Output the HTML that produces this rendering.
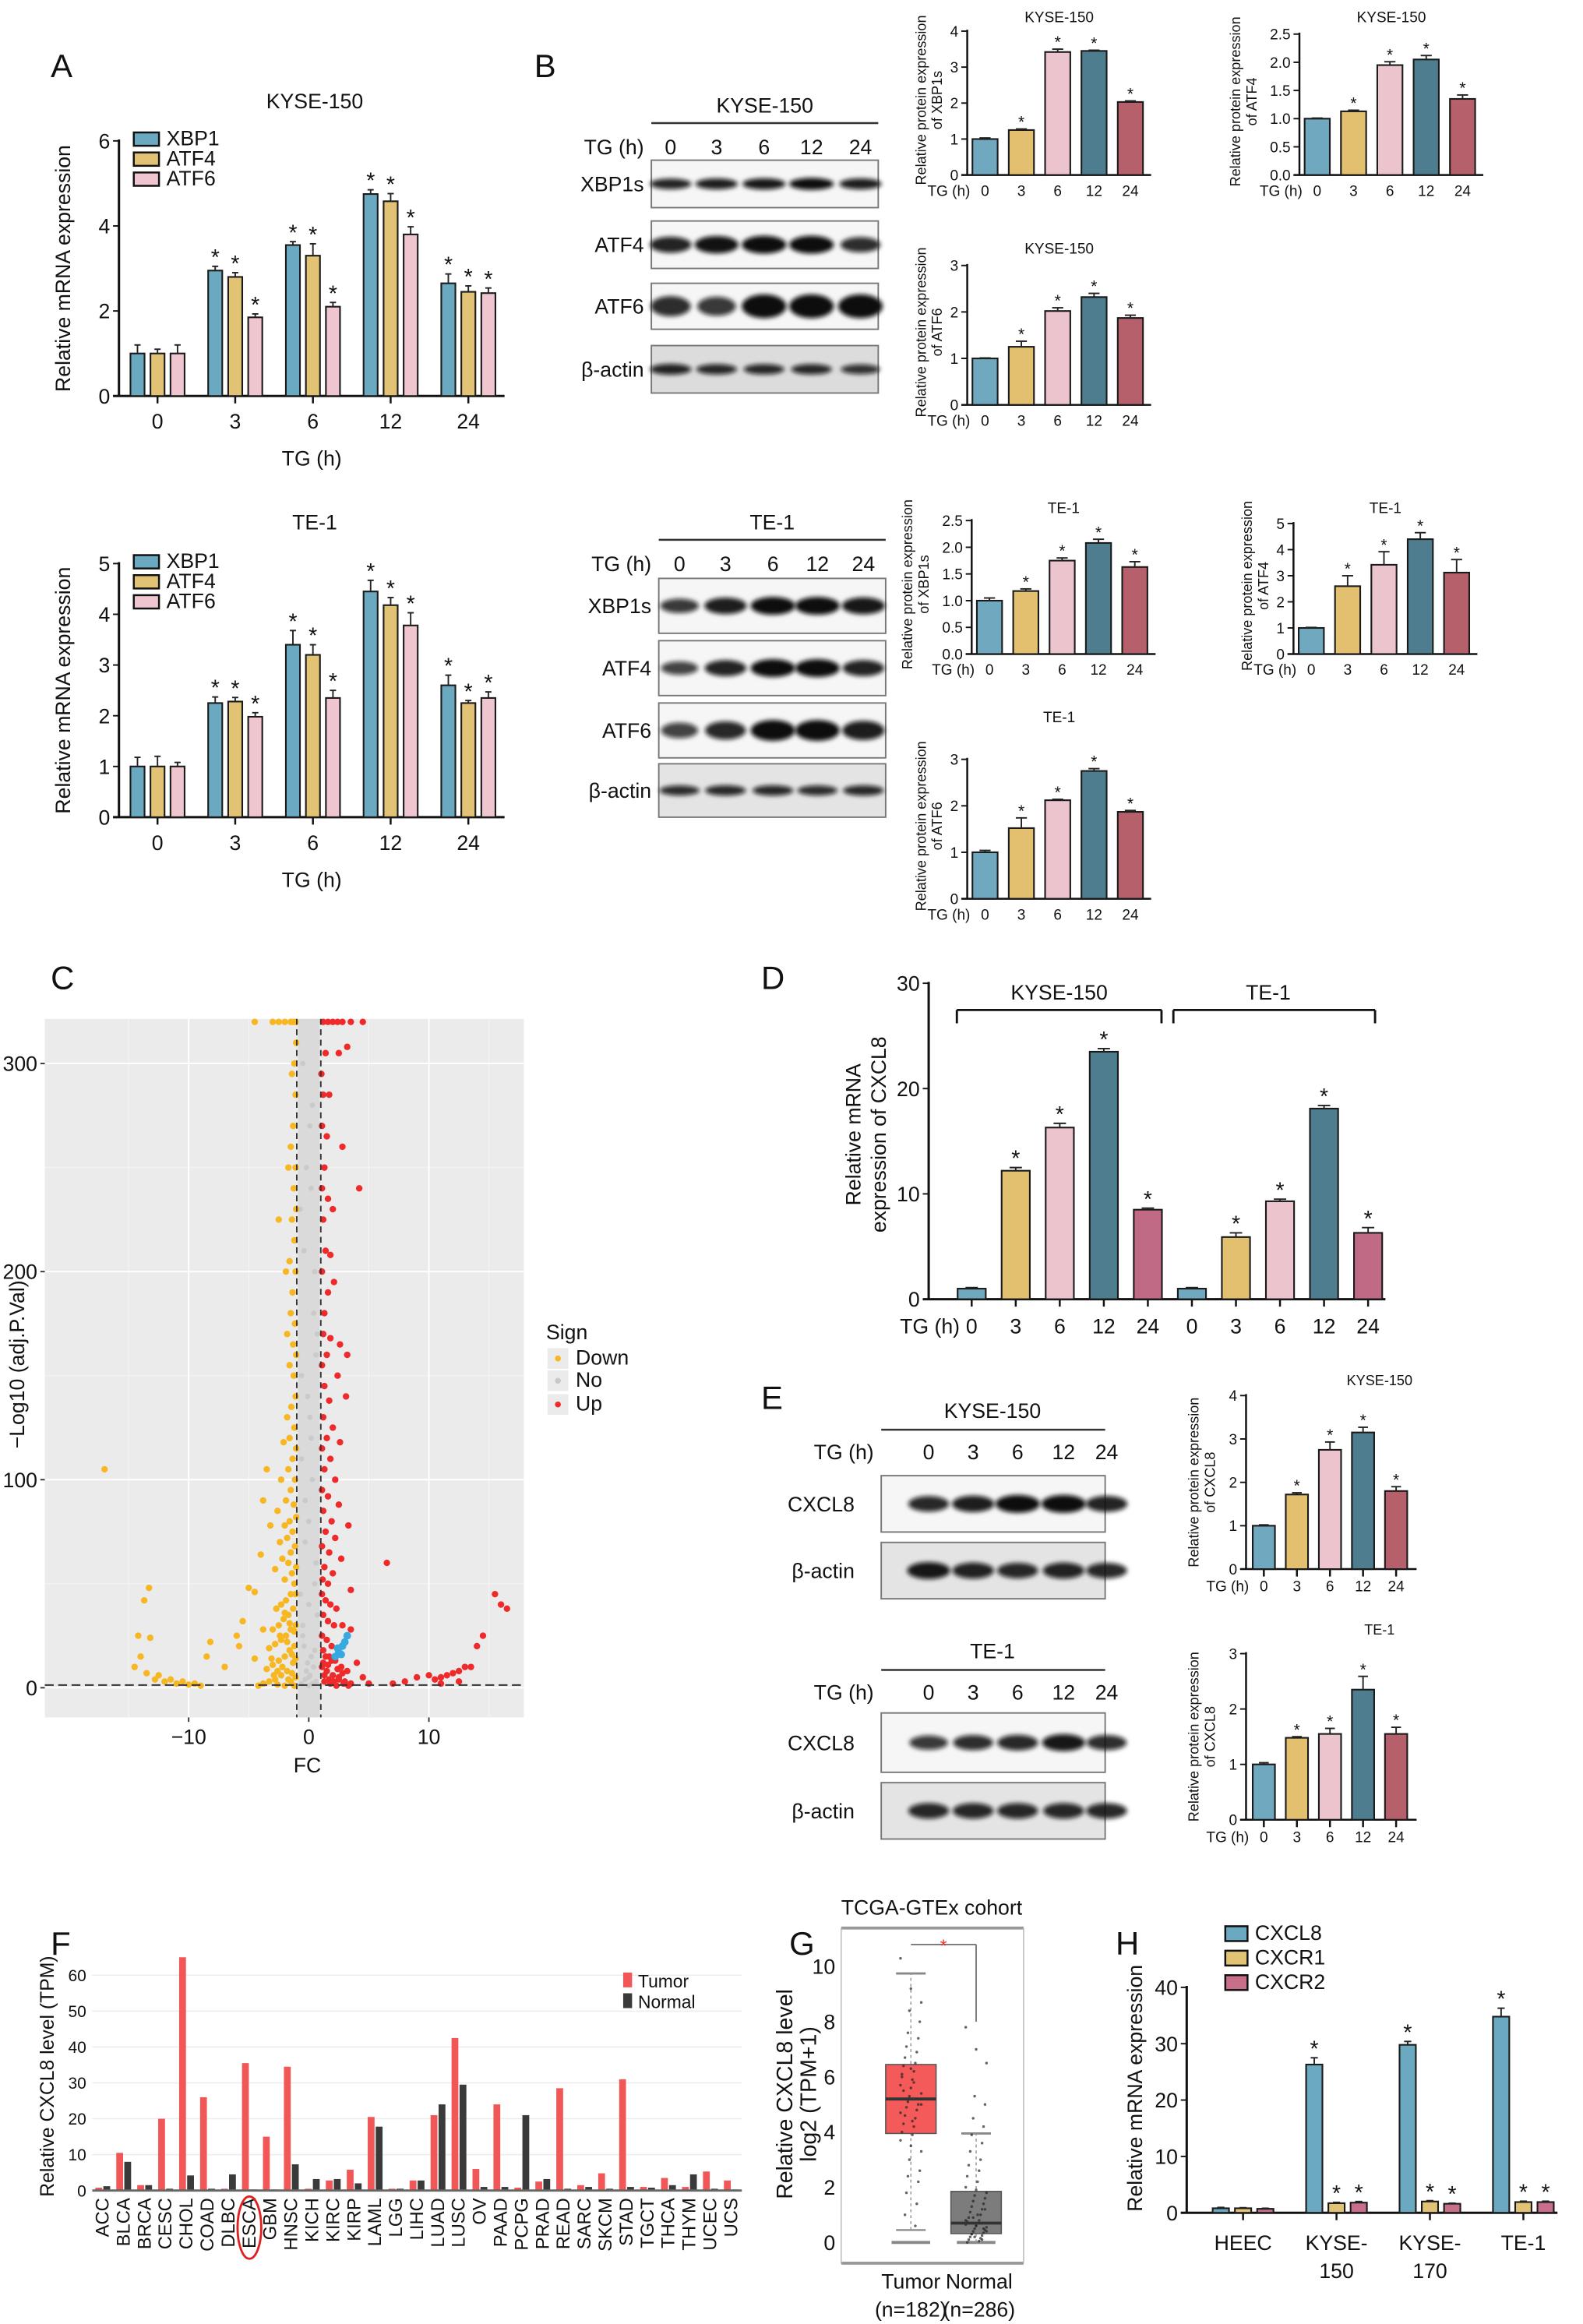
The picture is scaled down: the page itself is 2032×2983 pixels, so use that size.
<!DOCTYPE html>
<html><head><meta charset="utf-8"><title>UPR / CXCL8 figure</title>
<style>
html,body{margin:0;padding:0;background:#fff;}
svg{display:block;font-family:"Liberation Sans",Arial,sans-serif;}
</style></head>
<body>
<svg id="fig" xmlns="http://www.w3.org/2000/svg" width="2032" height="2983" viewBox="0 0 1067 1567">
<defs>
<filter id="blur" x="-30%" y="-80%" width="160%" height="260%"><feGaussianBlur stdDeviation="1.6"/></filter>
</defs>
<rect x="0" y="0" width="1067" height="1567" fill="#fff"/>
</svg>
<script>
// ---------------- DATA ----------------
const tgLabels = ["0","3","6","12","24"];
const aKyseXBP1 = [1.0, 2.95, 3.55, 4.75, 2.65];
const aKyseATF4 = [1.0, 2.8, 3.3, 4.58, 2.45];
const aKyseATF6 = [1.0, 1.85, 2.1, 3.8, 2.42];
const aKyseErrX = [0.2, 0.1, 0.08, 0.1, 0.22];
const aKyseErr4 = [0.1, 0.1, 0.28, 0.18, 0.14];
const aKyseErr6 = [0.2, 0.08, 0.1, 0.18, 0.12];
const aTeXBP1 = [1.0, 2.25, 3.4, 4.45, 2.6];
const aTeATF4 = [1.0, 2.28, 3.2, 4.18, 2.25];
const aTeATF6 = [1.0, 1.98, 2.35, 3.78, 2.35];
const aTeErrX = [0.18, 0.12, 0.28, 0.22, 0.2];
const aTeErr4 = [0.2, 0.08, 0.2, 0.15, 0.05];
const aTeErr6 = [0.08, 0.08, 0.15, 0.25, 0.12];
const aTicksKyse = [0, 2, 4, 6];
const aTicksTe = [0, 1, 2, 3, 4, 5];

const bKyseXBP1s = [1.0, 1.25, 3.42, 3.45, 2.03];
const bKyseXBP1sErr = [0.03, 0.03, 0.08, 0.02, 0.03];
const bKyseATF4 = [1.0, 1.13, 1.95, 2.05, 1.35];
const bKyseATF4Err = [0.01, 0.02, 0.06, 0.07, 0.07];
const bKyseATF6 = [1.0, 1.25, 2.02, 2.32, 1.87];
const bKyseATF6Err = [0.01, 0.12, 0.07, 0.08, 0.06];
const bTeXBP1s = [1.0, 1.18, 1.75, 2.08, 1.63];
const bTeXBP1sErr = [0.05, 0.04, 0.05, 0.07, 0.1];
const bTeATF4 = [1.0, 2.6, 3.42, 4.4, 3.12];
const bTeATF4Err = [0.02, 0.4, 0.5, 0.25, 0.5];
const bTeATF6 = [1.0, 1.52, 2.12, 2.75, 1.87];
const bTeATF6Err = [0.04, 0.22, 0.02, 0.05, 0.03];
const ticks0to4 = [0, 1, 2, 3, 4];
const ticks0to3 = [0, 1, 2, 3];
const ticks0to5 = [0, 1, 2, 3, 4, 5];
const ticks0to25 = [0, 0.5, 1.0, 1.5, 2.0, 2.5];

const dLabels = ["0","3","6","12","24","0","3","6","12","24"];
const dValues = [1.0, 12.2, 16.3, 23.5, 8.5, 1.0, 5.9, 9.3, 18.1, 6.3];
const dErrors = [0.1, 0.3, 0.4, 0.3, 0.15, 0.1, 0.4, 0.2, 0.3, 0.5];
const dTicks = [0, 10, 20, 30];

const eKyseCXCL8 = [1.0, 1.72, 2.75, 3.15, 1.8];
const eKyseErr = [0.02, 0.04, 0.18, 0.12, 0.1];
const eTeCXCL8 = [1.0, 1.48, 1.55, 2.35, 1.55];
const eTeErr = [0.03, 0.02, 0.1, 0.24, 0.12];

const fCategories = ["ACC","BLCA","BRCA","CESC","CHOL","COAD","DLBC","ESCA","GBM","HNSC","KICH","KIRC","KIRP","LAML","LGG","LIHC","LUAD","LUSC","OV","PAAD","PCPG","PRAD","READ","SARC","SKCM","STAD","TGCT","THCA","THYM","UCEC","UCS"];
const fTumor = [0.8,10.5,1.5,20,65,26,0.5,35.5,15,34.5,0.5,2.8,5.8,20.5,0.5,2.8,21,42.5,6,24,0.8,2.5,28.5,1.5,4.8,31,1,3.5,1,5.3,2.8];
const fNormal = [1.2,8,1.5,0.5,4.2,0.5,4.5,0.3,0.3,7.3,3.2,3.2,2,17.8,0.5,2.8,24,29.5,1,1,21,3.2,0.5,1,0.5,1,0.8,1.5,4.5,0.5,0.3];
const fTicks = [0,10,20,30,40,50,60];

const gTicks = [0,2,4,6,8,10];
const gTumorStats = [0.0, 0.45, 3.95, 5.2, 6.45, 9.75];
const gNormalStats = [0.0, 0.0, 0.32, 0.7, 1.85, 3.95];
const gTumorPts = [10.3,9.2,8.7,8.4,8.0,7.6,7.4,7.1,6.9,6.7,6.5,6.4,6.2,6.0,5.9,5.7,5.6,5.4,5.3,5.2,5.1,5.0,4.9,4.8,4.6,4.5,4.3,4.2,4.0,3.9,3.7,3.5,3.3,3.0,2.6,2.4,2.2,1.8,1.4,1.0,0.6,5.5,5.8,6.1,4.4,4.7,6.3,5.0];
const gNormalPts = [7.8,7.0,6.5,5.3,5.0,4.5,4.2,3.9,3.6,3.3,3.0,2.8,2.6,2.4,2.2,2.0,1.9,1.8,1.7,1.6,1.5,1.4,1.3,1.2,1.1,1.0,0.9,0.8,0.75,0.7,0.65,0.6,0.55,0.5,0.45,0.4,0.35,0.3,0.25,0.2,0.15,0.1,0.05,0.0,1.0,0.8,0.6,0.4,0.2,1.2,0.9,0.5,0.3,0.1];

const hCXCL8 = [0.8, 26.3, 29.8, 34.8];
const hCXCR1 = [0.8, 1.7, 2.0, 1.9];
const hCXCR2 = [0.7, 1.8, 1.6, 1.9];
const hErrCXCL8 = [0.15, 1.2, 0.6, 1.5];
const hErrCXCR1 = [0.1, 0.15, 0.15, 0.15];
const hErrCXCR2 = [0.1, 0.2, 0.1, 0.15];
const hTicks = [0,10,20,30,40];

const volDownFC = [-1.05,-1.2,-1.4,-1.1,-1.3,-1.5,-1.1,-1.7,-1.25,-1.05,-1.4,-2.5,-1.2,-1.6,-1.1,-1.9,-1.35,-1.5,-1.15,-1.8,-1.3,-1.05,-1.6,-1.25,
 -1.1,-1.45,-1.8,-1.2,-1.6,-2.1,-1.05,-1.35,-1.7,-2.3,-1.15,-1.5,-1.9,-1.25,-2.6,-1.05,-1.6,-2,-1.35,-1.8,-2.4,-1.15,-1.5,-2.2,-1.7,-1.05,-2.8,-1.4,-2,-1.2,-3.5,-3.8,-3.2,-4,
 -1.1,-1.5,-1.9,-2.3,-2.7,-1.3,-1.7,-2.1,-2.5,-1.1,-3,-1.5,-1.9,-2.3,-2.8,-3.3,-1.2,-1.6,-2,-2.5,-3,-3.5,-1.3,-1.8,-2.3,-2.8,-3.3,-3.8,-1.1,-1.5,-2,-4.2,-1.2,-2.6,
 -1.4,-1.8,-2.2,-2.6,-1.2,-1.6,-2.0,-2.4,-1.1,-1.4,-1.7,-2.9,-3.1,
 -5,-4.5,-5.5,-3.8,-6,-5.8,-4.5,-7,-13.3,-13.7,-14.2,-13.2,-14,-14.5,-13.5,-12.8,-12,-11,-10,-9,-12.5,-11.5,-10.5,-9.5,-8.2,-8.5,-17,-2,-2.5,-3,-1.5,-4.5,-1.1,-1.3];
const volDownP = [310,300,295,285,270,260,250,250,240,230,225,225,215,205,200,200,190,180,175,170,165,160,155,150,
 140,135,130,125,120,118,115,110,105,100,100,95,90,88,85,82,80,78,75,72,70,68,65,62,60,58,57,55,52,50,105,90,78,64,
 45,45,42,40,38,38,35,33,30,30,28,28,25,23,21,19,20,18,15,13,11,9,12,8,6,4,3,2,5,3,1,1,1,1.5,
 16,22,10,8,27,31,36,25,14,7,4,6,14,
 48,46,32,28,25,20,14,10,48,42,25,24,15,10,7,4,3,2,1.5,1,6,4,3,2,22,15,105,320,320,320,320,320,320,320];
const volUpFC = [1.05,1.4,2.5,3.2,1.2,1.7,1.1,1.5,2.8,1.3,1.1,1.6,4.2,1.2,2,1.4,1.8,1.1,1.6,2.1,1.3,1.2,1.8,2.6,1.5,3.2,1.1,2.4,1.3,3.1,
 1.7,1.2,2,1.5,1.1,2.6,1.8,1.3,2.2,1.1,1.6,2.5,1.2,1.9,3.3,1.4,2.2,1.1,1.7,2.7,1.3,2,1.15,1.6,6.5,3.5,
 1.1,1.4,1.8,2.3,1.2,1.6,2.1,2.8,3.5,1.1,1.5,1.9,1.2,1.7,2.2,2.7,3.2,1.1,1.5,2,2.5,3,3.5,1.3,1.8,2.3,
 1.3,1.7,2.1,2.5,2.9,3.3,1.2,1.6,2.4,2.8,1.4,1.9,
 4,4.5,5,7,8,9,10,10.5,11,11.5,12,12.5,13,13.5,12.5,11,14,14.5,15.5,16,16.5,1.2,1.6,2,2.4,2.8,3.5,4.5];
const volUpP = [295,305,305,308,285,285,270,265,260,250,240,235,240,225,230,210,208,200,190,195,180,170,168,165,160,160,155,150,145,140,
 138,130,125,120,115,118,110,105,100,95,92,88,85,80,78,75,72,68,65,62,58,55,52,50,60,47,
 45,42,40,38,35,32,30,30,28,25,23,20,18,15,13,10,8,10,8,6,4,3,2,3,2,1,
 6,4,3,5,2,1,12,11,9,7,15,13,
 12,5,2,2,3,5,6,4,5,6,7,8,10,10,3,2,20,25,45,40,38,320,320,320,320,320,320,320];
const volNoFC = [-0.5,0.3,-0.2,0.5,-0.6,0.2,-0.3,0.6,0,-0.4,0.4,0,-0.7,0.7,-0.1,0.1,0.3,-0.3,0.5,-0.5,0.2,-0.2,0.6,-0.6,0,0.4,-0.4,0.1,-0.7,0.7,-0.5,0.5,-0.1,0.1,-0.3,0.3,0,-0.6,0.6,0.2];
const volNoP = [300,280,250,200,150,120,90,60,40,20,10,5,230,170,140,270,100,70,50,30,15,8,3,2,1,180,210,130,45,35,25,18,12,6,4,2,80,110,160,240];
const volHiFC = [2.2,2.5,2.8,3.0,3.2,2.4,2.7];
const volHiP = [15,17,20,22,25,19,16];
const volTicksX = [-10,0,10];
const volTicksY = [0,100,200,300];

const blotKyseXBP1s = [0.8,0.85,0.9,1.0,0.85];
const blotKyseATF4 = [0.8,0.95,1.0,1.0,0.7];
const blotKyseATF6 = [0.7,0.6,1.0,1.0,1.0];
const blotKyseActin = [0.8,0.75,0.75,0.75,0.65];
const blotTeXBP1s = [0.6,0.85,1.0,1.0,0.9];
const blotTeATF4 = [0.5,0.8,1.0,1.0,0.8];
const blotTeATF6 = [0.5,0.75,1.0,1.0,0.85];
const blotTeActin = [0.7,0.75,0.75,0.7,0.75];
const blotEKyseCXCL8 = [0.75,0.85,1.0,1.0,0.8];
const blotEKyseActin = [0.9,0.8,0.75,0.8,0.75];
const blotETeCXCL8 = [0.6,0.7,0.75,0.9,0.7];
const blotETeActin = [0.75,0.75,0.75,0.75,0.75];

// ---------------- HELPERS ----------------
const NS = 'http://www.w3.org/2000/svg';
const svg = document.getElementById('fig');
function mk(tag, attrs, parent) {
  const el = document.createElementNS(NS, tag);
  for (const k in attrs) el.setAttribute(k, attrs[k]);
  (parent || svg).appendChild(el);
  return el;
}
function group(name, parent) {
  const el = mk('g', {}, parent);
  
  
  return el;
}
function text(parent, x, y, s, size, name, opts) {
  opts = opts || {};
  const el = mk('text', {x: x, y: y, 'font-size': size, fill: opts.fill || '#111', 'text-anchor': opts.anchor || 'middle'}, parent);
  if (opts.rotate) el.setAttribute('transform', 'rotate(-90 ' + x + ' ' + y + ')');
  el.textContent = s;
  
  
  return el;
}
function line(parent, x1, y1, x2, y2, w, color, name, dash) {
  const el = mk('line', {x1: x1, y1: y1, x2: x2, y2: y2, stroke: color || '#111', 'stroke-width': w || 1}, parent);
  if (dash) el.setAttribute('stroke-dasharray', dash);
  
  
  return el;
}
function panelLabel(x, y, s) {
  text(svg, x, y, s, 22, 'panel-label-' + s.toLowerCase(), {anchor: 'start'});
}

function barChart(cfg) {
  const g = group(cfg.name);
  const yS = v => cfg.y0 - (v / cfg.max) * (cfg.y0 - cfg.yTop);
  const xS = i => cfg.x0 + cfg.off + i * cfg.step;
  line(g, cfg.x0, cfg.yTop - 1, cfg.x0, cfg.y0, cfg.axisW || 1.3, '#111', 'y-axis');
  line(g, cfg.x0 - 4, cfg.y0, cfg.x1, cfg.y0, cfg.axisW || 1.3, '#111', 'x-axis');
  cfg.ticks.forEach(t => {
    line(g, cfg.x0 - 4, yS(t), cfg.x0, yS(t), 1, '#111', 'y-tick');
    text(g, cfg.x0 - 6, yS(t) + cfg.fs * 0.36, cfg.tickFmt ? cfg.tickFmt(t) : String(t), cfg.fs, 'y-tick-label', {anchor: 'end'});
  });
  cfg.cats.forEach((c, i) => {
    if (cfg.catTicks) line(g, xS(i), cfg.y0, xS(i), cfg.y0 + 5, 1.3, '#111', 'x-tick');
    text(g, xS(i), cfg.catY, c, cfg.fs, 'x-tick-label');
  });
  cfg.series.forEach(s => {
    s.vals.forEach((v, i) => {
      const cx = xS(i) + (s.dx || 0);
      const y = yS(v);
      const col = Array.isArray(s.color) ? s.color[i] : s.color;
      const r = mk('rect', {x: cx - cfg.bw / 2, y: y, width: cfg.bw, height: cfg.y0 - y, fill: col, stroke: '#1a1a1a', 'stroke-width': cfg.barStroke || 1.1}, g);
      
      
      const e = s.errs ? s.errs[i] : 0;
      if (e > 0) {
        const ye = yS(v + e);
        line(g, cx, y, cx, ye, 1, '#222', 'error-bar');
        line(g, cx - cfg.bw * 0.22, ye, cx + cfg.bw * 0.22, ye, 1, '#222', 'error-cap');
      }
      if (s.stars && s.stars[i]) {
        text(g, cx, yS(v + e) - (cfg.starGap || 3), '*', cfg.starFs || cfg.fs, 'significance-star');
      }
    });
  });
  if (cfg.title) text(g, cfg.titleX || (cfg.x0 + cfg.x1) / 2, cfg.titleY, cfg.title, cfg.titleFs || cfg.fs, 'chart-title');
  if (cfg.ylabel) {
    cfg.ylabel.forEach((l, k) => text(g, cfg.ylabX + k * (cfg.ylabGap || 12), cfg.ylabY, l, cfg.ylabFs || cfg.fs, 'y-axis-title', {rotate: true}));
  }
  if (cfg.xPrefix) text(g, cfg.xPrefix[0], cfg.catY, cfg.xPrefix[1], cfg.fs, 'x-axis-prefix', {anchor: 'end'});
  return g;
}
function legend(parent, x, y, items, gap, fs, sw, sh) {
  items.forEach((it, i) => {
    const r = mk('rect', {x: x, y: y + i * gap - sh / 2 - fs * 0.3, width: sw, height: sh, fill: it[1], stroke: '#111', 'stroke-width': 1.3}, parent);
    
    
    text(parent, x + sw + 5, y + i * gap, it[0], fs, 'legend-label-' + it[0].toLowerCase(), {anchor: 'start'});
  });
}
function blot(parent, x0, x1, y0, y1, lanesX, intensities, name, bandH, extraBg) {
  const g = group(name, parent);
  const bg = mk('rect', {x: x0, y: y0, width: x1 - x0, height: y1 - y0, fill: extraBg || '#f6f6f6', stroke: '#777', 'stroke-width': 1}, g);
  
  
  const cy = (y0 + y1) / 2;
  intensities.forEach((v, i) => {
    const e = mk('ellipse', {cx: lanesX[i], cy: cy, rx: 10 + 5 * v, ry: bandH * (0.5 + 0.5 * v), fill: '#0a0a0a', 'fill-opacity': 0.55 + 0.45 * v, filter: 'url(#blur)'}, g);
    
    
  });
  return g;
}

const C5 = ['#6fa8bf', '#e3c06f', '#ecc4cd', '#4d7d8e', '#b5606a'];
const GENE = ['#6aa9c0', '#e2c274', '#efc5d0'];
const allStar = [0, 1, 1, 1, 1];

// ---------------- PANEL A ----------------
panelLabel(34, 52, 'A');
function panelA(name, title, titleY, y0, yTop, max, ticks, s1, s2, s3, e1, e2, e3, legY) {
  const g = barChart({name: name, x0: 80, x1: 340, y0: y0, yTop: yTop, max: max, ticks: ticks, fs: 14,
    cats: tgLabels, catY: y0 + 22, catTicks: true, off: 26, step: 52.4, bw: 9.5, starFs: 15, starGap: 1,
    series: [
      {label: 'xbp1', vals: s1, errs: e1, color: GENE[0], dx: -13.5, stars: allStar},
      {label: 'atf4', vals: s2, errs: e2, color: GENE[1], dx: 0, stars: allStar},
      {label: 'atf6', vals: s3, errs: e3, color: GENE[2], dx: 13.5, stars: allStar}],
    title: title, titleX: 212, titleY: titleY, titleFs: 14,
    ylabel: ['Relative mRNA expression'], ylabX: 47, ylabY: (y0 + yTop) / 2, axisW: 1.6});
  text(g, 210, y0 + 47, 'TG (h)', 14, 'x-axis-title');
  legend(g, 90, legY, [['XBP1', GENE[0]], ['ATF4', GENE[1]], ['ATF6', GENE[2]]], 13.5, 14, 17, 9);
}
panelA('chart-a-kyse150', 'KYSE-150', 73, 267, 95, 6, aTicksKyse, aKyseXBP1, aKyseATF4, aKyseATF6, aKyseErrX, aKyseErr4, aKyseErr6, 98);
panelA('chart-a-te1', 'TE-1', 357, 551, 380, 5, aTicksTe, aTeXBP1, aTeATF4, aTeATF6, aTeErrX, aTeErr4, aTeErr6, 383);

// ---------------- PANEL B BLOTS ----------------
panelLabel(360, 52, 'B');
function blotSet(name, title, x0, x1, titleY, lineY, tgY, lanes, rows, labels) {
  const g = group(name);
  text(g, (x0 + x1) / 2, titleY, title, 14, 'blot-title');
  line(g, x0, lineY, x1, lineY, 1.3, '#333', 'blot-title-line');
  text(g, x0 - 5, tgY, 'TG (h)', 14, 'blot-tg-label', {anchor: 'end'});
  tgLabels.forEach((l, i) => text(g, lanes[i], tgY, l, 14, 'blot-lane-label'));
  rows.forEach((r, k) => {
    blot(g, x0, x1, r[0], r[1], lanes, r[2], name + '-' + labels[k].replace('β', 'b').toLowerCase(), r[3] || 5, r[4]);
    text(g, x0 - 5, (r[0] + r[1]) / 2 + 5, labels[k], 14, 'blot-row-label', {anchor: 'end'});
  });
}
blotSet('blot-b-kyse150', 'KYSE-150', 439, 592, 76, 83, 104, [452, 483, 515, 547, 580],
  [[108, 140, blotKyseXBP1s, 4], [149, 181, blotKyseATF4, 6], [191, 222, blotKyseATF6, 8], [233, 265, blotKyseActin, 4, '#dcdcdc']],
  ['XBP1s', 'ATF4', 'ATF6', 'β-actin']);
blotSet('blot-b-te1', 'TE-1', 444, 597, 357, 364, 385, [458, 489, 521, 551, 582],
  [[390, 427, blotTeXBP1s, 6], [432, 469, blotTeATF4, 6], [474, 511, blotTeATF6, 7], [515, 551, blotTeActin, 4, '#e4e4e4']],
  ['XBP1s', 'ATF4', 'ATF6', 'β-actin']);

// ---------------- PANEL B QUANT ----------------
function smallChart(name, title, x0, y0, yTop, max, ticks, vals, errs, ylab2, titleY, fmt) {
  const lx = fmt ? x0 - 40 : x0 - 28;
  barChart({name: name, x0: x0, x1: x0 + 124, y0: y0, yTop: yTop, max: max, ticks: ticks, fs: 10,
    tickFmt: fmt, cats: tgLabels, catY: y0 + 14, catTicks: false, off: 12, step: 24.5, bw: 17, starFs: 11, starGap: 1,
    series: [{label: 'protein', vals: vals, errs: errs, color: C5, stars: allStar}],
    title: title, titleY: titleY, titleFs: 10, xPrefix: [x0 + 2, 'TG (h)'],
    ylabel: ['Relative protein expression', ylab2], ylabX: lx, ylabGap: 11, ylabY: (y0 + yTop) / 2 - 2, ylabFs: 9.5, axisW: 1.3});
}
const f1 = t => t.toFixed(1);
smallChart('chart-b-kyse-xbp1s', 'KYSE-150', 652, 118, 21, 4, ticks0to4, bKyseXBP1s, bKyseXBP1sErr, 'of XBP1s', 15);
smallChart('chart-b-kyse-atf4', 'KYSE-150', 876, 118, 23, 2.5, ticks0to25, bKyseATF4, bKyseATF4Err, 'of ATF4', 15, f1);
smallChart('chart-b-kyse-atf6', 'KYSE-150', 652, 273, 179, 3, ticks0to3, bKyseATF6, bKyseATF6Err, 'of ATF6', 171);
smallChart('chart-b-te-xbp1s', 'TE-1', 655, 441, 351, 2.5, ticks0to25, bTeXBP1s, bTeXBP1sErr, 'of XBP1s', 346, f1);
smallChart('chart-b-te-atf4', 'TE-1', 872, 441, 353, 5, ticks0to5, bTeATF4, bTeATF4Err, 'of ATF4', 346);
smallChart('chart-b-te-atf6', 'TE-1', 652, 606, 512, 3, ticks0to3, bTeATF6, bTeATF6Err, 'of ATF6', 487);

// ---------------- PANEL C VOLCANO ----------------
panelLabel(34, 667, 'C');
(function () {
  const g = group('volcano-plot');
  const px0 = 30, px1 = 353, py0 = 687, py1 = 1158;
  const xS = v => 208 + v * 8.1;
  const yS = v => 1138 - v * 1.403;
  const bg = mk('rect', {x: px0, y: py0, width: px1 - px0, height: py1 - py0, fill: '#ebebeb'}, g);
  
  
  [-15, -5, 5, 15].forEach(v => line(g, xS(v), py0, xS(v), py1, 0.5, '#f6f6f6', 'minor-grid'));
  [50, 150, 250].forEach(v => line(g, px0, yS(v), px1, yS(v), 0.5, '#f6f6f6', 'minor-grid'));
  volTicksX.forEach(v => {
    line(g, xS(v), py0, xS(v), py1, 1, '#fff', 'major-grid');
    line(g, xS(v), py1, xS(v), py1 + 3, 1, '#333', 'x-tick');
    text(g, xS(v), py1 + 18, v === -10 ? '−10' : String(v), 14, 'x-tick-label');
  });
  volTicksY.forEach(v => {
    line(g, px0, yS(v), px1, yS(v), 1, '#fff', 'major-grid');
    line(g, px0 - 3, yS(v), px0, yS(v), 1, '#333', 'y-tick');
    text(g, px0 - 5, yS(v) + 5, String(v), 14, 'y-tick-label', {anchor: 'end'});
  });
  const band = mk('rect', {x: xS(-0.9), y: py0, width: xS(0.9) - xS(-0.9), height: py1 - py0, fill: '#dadada'}, g);
  
  
  function pts(fc, p, col, nm, r) {
    fc.forEach((v, i) => {
      const c = mk('circle', {cx: xS(v), cy: yS(Math.min(p[i], 322)), r: r, fill: col}, g);
      
      
    });
  }
  pts(volNoFC, volNoP, '#cacaca', 'point-no', 1.8);
  pts(volDownFC, volDownP, '#f6b723', 'point-down', 2.2);
  pts(volUpFC, volUpP, '#ef2a2a', 'point-up', 2.2);
  pts(volHiFC, volHiP, '#36a9e1', 'point-highlight', 2.6);
  line(g, xS(-1), py0, xS(-1), py1, 1, '#333', 'fc-threshold-left', '4,3');
  line(g, xS(1), py0, xS(1), py1, 1, '#333', 'fc-threshold-right', '4,3');
  line(g, px0, yS(1.3), px1, yS(1.3), 1, '#333', 'p-threshold', '6,3');
  text(g, 207, 1195, 'FC', 14, 'x-axis-title');
  text(g, 16, 920, '−Log10 (adj.P.Val)', 14, 'y-axis-title', {rotate: true});
  text(g, 368, 903, 'Sign', 14, 'legend-title', {anchor: 'start'});
  [['Down', '#f6b723', 920], ['No', '#c8c8c8', 935], ['Up', '#ef2a2a', 951]].forEach(it => {
    const r = mk('rect', {x: 369, y: it[2] - 11, width: 14, height: 14, fill: '#ebebeb'}, g);
    
    
    const c = mk('circle', {cx: 376, cy: it[2] - 4, r: 2, fill: it[1]}, g);
    
    
    text(g, 388, it[2], it[0], 14, 'legend-label-' + it[0].toLowerCase(), {anchor: 'start'});
  });
})();

// ---------------- PANEL D ----------------
panelLabel(513, 667, 'D');
(function () {
  const dColors = ['#6fa8bf', '#e3c06f', '#ecc4cd', '#4d7d8e', '#c06a85', '#6fa8bf', '#e3c06f', '#ecc4cd', '#4d7d8e', '#c06a85'];
  const g = barChart({name: 'chart-d-cxcl8-mrna', x0: 626, x1: 934, y0: 876, yTop: 663, max: 30, ticks: dTicks, fs: 14,
    cats: dLabels, catY: 899, catTicks: true, off: 29, step: 29.7, bw: 19, starFs: 15, starGap: 1,
    series: [{label: 'cxcl8', vals: dValues, errs: dErrors, color: dColors, stars: [0, 1, 1, 1, 1, 0, 1, 1, 1, 1]}],
    xPrefix: [647, 'TG (h)'], ylabel: ['Relative mRNA', 'expression of CXCL8'], ylabX: 580, ylabGap: 17, ylabY: 765, axisW: 1.6});
  line(g, 645, 681, 783, 681, 1.5, '#111', 'bracket-kyse150');
  line(g, 645, 681, 645, 690, 1.5, '#111', 'bracket-end');
  line(g, 783, 681, 783, 690, 1.5, '#111', 'bracket-end');
  line(g, 791, 681, 927, 681, 1.5, '#111', 'bracket-te1');
  line(g, 791, 681, 791, 690, 1.5, '#111', 'bracket-end');
  line(g, 927, 681, 927, 690, 1.5, '#111', 'bracket-end');
  text(g, 714, 674, 'KYSE-150', 14, 'group-label-kyse150');
  text(g, 855, 674, 'TE-1', 14, 'group-label-te1');
})();

// ---------------- PANEL E ----------------
panelLabel(513, 950, 'E');
function blotE(name, title, titleY, lineY, tgY, r1, r2, i1, i2) {
  const g = group(name);
  const lanes = [626, 656, 686, 717, 746];
  text(g, 669, titleY, title, 14, 'blot-title');
  line(g, 594, lineY, 745, lineY, 1.3, '#333', 'blot-title-line');
  text(g, 589, tgY, 'TG (h)', 14, 'blot-tg-label', {anchor: 'end'});
  tgLabels.forEach((l, i) => text(g, lanes[i], tgY, l, 14, 'blot-lane-label'));
  blot(g, 594, 745, r1[0], r1[1], lanes, i1, name + '-cxcl8', 6);
  text(g, 576, (r1[0] + r1[1]) / 2 + 5, 'CXCL8', 14, 'blot-row-label', {anchor: 'end'});
  blot(g, 594, 745, r2[0], r2[1], lanes, i2, name + '-bactin', 6, '#e4e4e4');
  text(g, 576, (r2[0] + r2[1]) / 2 + 5, 'β-actin', 14, 'blot-row-label', {anchor: 'end'});
}
blotE('blot-e-kyse150', 'KYSE-150', 956, 964, 984, [995, 1033], [1040, 1078], blotEKyseCXCL8, blotEKyseActin);
blotE('blot-e-te1', 'TE-1', 1118, 1126, 1146, [1155, 1195], [1202, 1240], blotETeCXCL8, blotETeActin);
function eChart(name, title, titleY, y0, yTop, max, ticks, vals, errs) {
  barChart({name: name, x0: 840, x1: 955, y0: y0, yTop: yTop, max: max, ticks: ticks, fs: 10,
    cats: tgLabels, catY: y0 + 15, catTicks: true, off: 12, step: 22.3, bw: 15, starFs: 11, starGap: 1,
    series: [{label: 'cxcl8', vals: vals, errs: errs, color: C5, stars: allStar}],
    title: title, titleX: 930, titleY: titleY, titleFs: 9.5, xPrefix: [842, 'TG (h)'],
    ylabel: ['Relative protein expression', 'of CXCL8'], ylabX: 808, ylabGap: 11, ylabY: (y0 + yTop) / 2, ylabFs: 9.5});
}
eChart('chart-e-kyse-cxcl8', 'KYSE-150', 934, 1058, 941, 4, ticks0to4, eKyseCXCL8, eKyseErr);
eChart('chart-e-te-cxcl8', 'TE-1', 1102, 1227, 1115, 3, ticks0to3, eTeCXCL8, eTeErr);

// ---------------- PANEL F ----------------
panelLabel(34, 1318, 'F');
(function () {
  const g = group('chart-f-pan-cancer');
  const x0 = 62, x1 = 500, y0 = 1477;
  const yS = v => y0 - v * 2.42;
  const step = (x1 - x0) / fCategories.length;
  const xS = i => x0 + step * (i + 0.5);
  fTicks.forEach(t => {
    if (t > 0) line(g, x0, yS(t), x1, yS(t), 0.8, '#ececec', 'grid-line');
    text(g, x0 - 4, yS(t) + 4, String(t), 11, 'y-tick-label', {anchor: 'end'});
  });
  fCategories.forEach((c, i) => {
    const rt = mk('rect', {x: xS(i) - 5, y: yS(fTumor[i]), width: 4.6, height: y0 - yS(fTumor[i]), fill: '#f25757'}, g);
    
    
    const rn = mk('rect', {x: xS(i) + 0.4, y: yS(fNormal[i]), width: 4.6, height: y0 - yS(fNormal[i]), fill: '#3a3a3a'}, g);
    
    
    text(g, xS(i) + 4, y0 + 5, c, 12.5, 'x-tick-label', {anchor: 'end', rotate: true});
  });
  line(g, x0, y0, x1, y0, 1.5, '#666', 'x-axis');
  const ring = mk('ellipse', {cx: xS(7), cy: 1502, rx: 8, ry: 21, fill: 'none', stroke: '#e02020', 'stroke-width': 1.5}, g);
  
  
  text(g, 36, 1400, 'Relative CXCL8 level (TPM)', 13, 'y-axis-title', {rotate: true});
  const lt = mk('rect', {x: 420, y: 1330, width: 6, height: 10, fill: '#f25757'}, g);
  
  
  text(g, 430, 1340, 'Tumor', 12, 'legend-label-tumor', {anchor: 'start'});
  const ln = mk('rect', {x: 420, y: 1344, width: 6, height: 10, fill: '#3a3a3a'}, g);
  
  
  text(g, 430, 1354, 'Normal', 12, 'legend-label-normal', {anchor: 'start'});
})();

// ---------------- PANEL G ----------------
panelLabel(532, 1318, 'G');
(function () {
  const g = group('chart-g-boxplot');
  const yS = v => 1512 - v * 18.6;
  text(g, 628, 1291, 'TCGA-GTEx cohort', 14, 'chart-title');
  line(g, 567, 1300, 690, 1300, 2, '#999', 'frame-top');
  line(g, 567, 1526, 690, 1526, 2, '#999', 'frame-bottom');
  line(g, 567, 1300, 567, 1526, 0.8, '#bbb', 'frame-left');
  line(g, 690, 1300, 690, 1526, 0.8, '#bbb', 'frame-right');
  gTicks.forEach(t => text(g, 563, yS(t) + 5, String(t), 14, 'y-tick-label', {anchor: 'end'}));
  function box(stats, cx, col, nm, pts) {
    const w = 17;
    line(g, cx - 13, yS(stats[0]), cx + 13, yS(stats[0]), 2, '#888', nm + '-min-cap');
    line(g, cx - 10, yS(stats[1]), cx + 10, yS(stats[1]), 1.2, '#888', nm + '-whisker-cap-low');
    line(g, cx - 10, yS(stats[5]), cx + 10, yS(stats[5]), 1.5, '#888', nm + '-whisker-cap-high');
    line(g, cx, yS(stats[1]), cx, yS(stats[5]), 0.8, '#999', nm + '-whisker', '2,2');
    const r = mk('rect', {x: cx - w, y: yS(stats[4]), width: 2 * w, height: yS(stats[2]) - yS(stats[4]), fill: col, stroke: '#555', 'stroke-width': 0.8}, g);
    
    
    pts.forEach((v, i) => {
      const c = mk('circle', {cx: cx + ((i * 37) % 15) - 7, cy: yS(v), r: 0.9, fill: '#222', 'fill-opacity': 0.7}, g);
      
      
    });
    line(g, cx - w, yS(stats[3]), cx + w, yS(stats[3]), 2, '#333', nm + '-median');
  }
  box(gTumorStats, 614, '#f45a5a', 'tumor', gTumorPts);
  box(gNormalStats, 658, '#7c7c7c', 'normal', gNormalPts);
  line(g, 614, yS(10.8), 658, yS(10.8), 1, '#777', 'sig-bracket');
  line(g, 658, yS(10.8), 658, yS(8), 1, '#777', 'sig-bracket-drop');
  text(g, 636, yS(10.8) + 5, '*', 12, 'significance-star', {fill: '#e33'});
  text(g, 534, 1412, 'Relative CXCL8 level', 15, 'y-axis-title', {rotate: true});
  text(g, 550, 1412, 'log2 (TPM+1)', 15, 'y-axis-title', {rotate: true});
  text(g, 614, 1543, 'Tumor', 14, 'x-tick-label');
  text(g, 614, 1562, '(n=182)', 14, 'x-tick-label');
  text(g, 660, 1543, 'Normal', 14, 'x-tick-label');
  text(g, 660, 1562, '(n=286)', 14, 'x-tick-label');
})();

// ---------------- PANEL H ----------------
panelLabel(752, 1318, 'H');
(function () {
  const HC = ['#6aa9c0', '#e2c274', '#c8708a'];
  const g = barChart({name: 'chart-h-receptors', x0: 800, x1: 1050, y0: 1492, yTop: 1340, max: 40, ticks: hTicks, fs: 14,
    cats: ['', '', '', ''], catY: 1512, catTicks: true, off: 38, step: 63, bw: 11, starFs: 15, starGap: 1,
    series: [
      {label: 'cxcl8', vals: hCXCL8, errs: hErrCXCL8, color: HC[0], dx: -15, stars: [0, 1, 1, 1]},
      {label: 'cxcr1', vals: hCXCR1, errs: hErrCXCR1, color: HC[1], dx: 0, stars: [0, 1, 1, 1]},
      {label: 'cxcr2', vals: hCXCR2, errs: hErrCXCR2, color: HC[2], dx: 15, stars: [0, 1, 1, 1]}],
    ylabel: ['Relative mRNA expression'], ylabX: 770, ylabY: 1408, axisW: 1.6});
  [['HEEC', ''], ['KYSE-', '150'], ['KYSE-', '170'], ['TE-1', '']].forEach((l, i) => {
    text(g, 838 + i * 63, 1517, l[0], 14, 'x-tick-label');
    if (l[1]) text(g, 838 + i * 63, 1536, l[1], 14, 'x-tick-label');
  });
  legend(g, 826, 1308, [['CXCL8', HC[0]], ['CXCR1', HC[1]], ['CXCR2', HC[2]]], 16.5, 14, 15, 10);
})();
</script>
</body></html>
